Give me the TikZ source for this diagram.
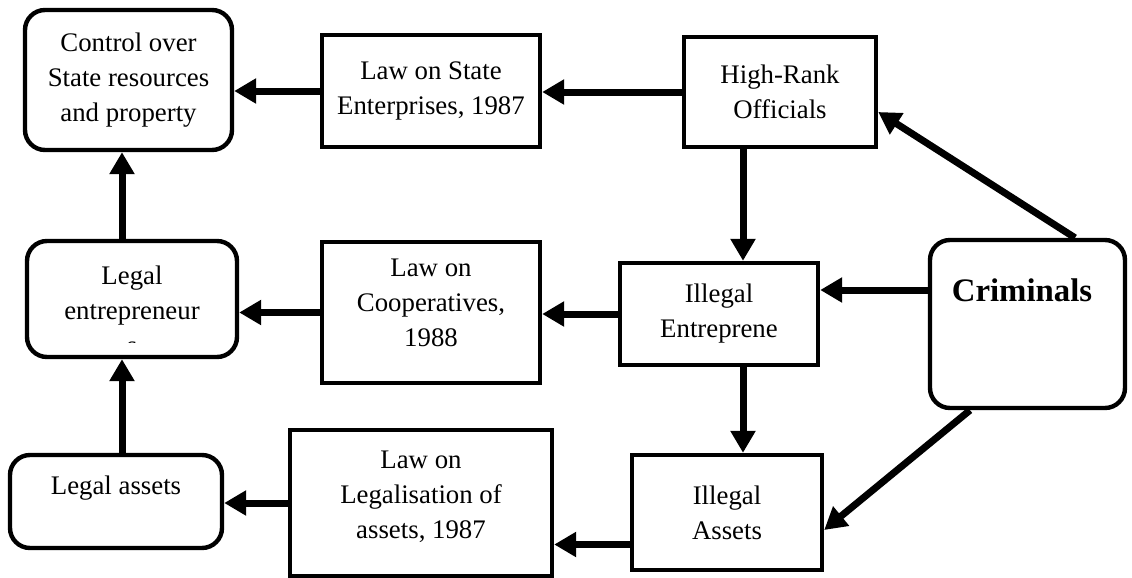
\documentclass[tikz,border=0pt]{standalone}
\usepackage{fontspec}
\setmainfont{Liberation Serif}
\usetikzlibrary{arrows.meta}

\begin{document}
\begin{tikzpicture}[
    x=0.5pt, y=-0.5pt,
    every node/.style={%
      font=\fontsize{13.4}{17.5}\selectfont,
      align=center,
      inner sep=0pt,
    },
    box/.style={%
      draw,
      rectangle,
      line width=2.2pt,
    },
    rbox/.style={%
      box,
      rounded corners=10pt,
    },
    arr/.style={%
      line width=3.5pt,
      -{Triangle[width=12pt,length=11pt]},
    },
  ]
    \useasboundingbox (0,0) rectangle (1132,578);

    \node [rbox, minimum width=103.5pt, minimum height=70pt] (A) at (128.5,80) {Control over\\State resources\\and property};
    \node [box, minimum width=109pt, minimum height=56pt] (B) at (431,91) {Law on State\\Enterprises, 1987};
    \node [box, minimum width=96pt, minimum height=55pt] (C) at (780,92) {High-Rank\\Officials};
    \node [rbox, minimum width=105pt, minimum height=58pt] (D) at (132,299) {};
    \node [box, minimum width=109pt, minimum height=70.5pt] (E) at (431,312.5) {};
    \node [box, minimum width=99pt, minimum height=51pt] (F) at (719,314) {Illegal\\Entreprene};
    \node [rbox, minimum width=97.5pt, minimum height=84pt] (G) at (1027.5,324) {};
    \node [rbox, minimum width=106pt, minimum height=46.5pt] (H) at (116,501.5) {};
    \node [box, minimum width=131pt, minimum height=73pt] (I) at (421,503) {};
    \node [box, minimum width=95pt, minimum height=57.5pt] (J) at (727,512.5) {Illegal\\Assets};

    % texts that sit off the box centre
    \begin{scope}
      \clip (27,241) rectangle (237,342);
      \node (Dt) at (132,310) {Legal\\entrepreneur\\s};
    \end{scope}
    \node (Et) at (431,303) {Law on\\Cooperatives,\\1988};
    \node [font=\fontsize{16.4}{19}\selectfont\bfseries] (Gt) at (1022,290) {Criminals};
    \node (Ht) at (116,488) {Legal assets};
    \node (It) at (421,497) {Law on\\Legalisation of\\assets, 1987};

    \coordinate (ji) at ([yshift=-16pt]J.west);

    \draw [arr] (B.west) -- (A.east |- B.west);
    \draw [arr] (C.west) -- (B.east |- C.west);
    \draw [arr] ([xshift=-18.5pt]C.south) -- ([xshift=12pt]F.north);
    \draw [arr] ([xshift=23.75pt]G.north) -- ([yshift=-10pt]C.east);
    \draw [arr] ([yshift=17pt]G.west) -- (F.east |- Gt);
    \draw [arr] (F.west) -- (E.east |- F.west);
    \draw [arr] (E.west) -- (D.east |- E.west);
    \draw [arr] ([xshift=-5pt]D.north) -- ([xshift=-3.25pt]A.south);
    \draw [arr] ([xshift=3pt]H.north) -- ([xshift=-5pt]D.south);
    \draw [arr] ([xshift=12pt]F.south) -- ([xshift=8pt]J.north);
    \draw [arr] ([xshift=-28.75pt]G.south) -- ([yshift=-8.75pt]J.east);
    \draw [arr] (ji) -- (I.east |- ji);
    \draw [arr] (I.west) -- (H.east |- I.west);

\end{tikzpicture}
\end{document}
